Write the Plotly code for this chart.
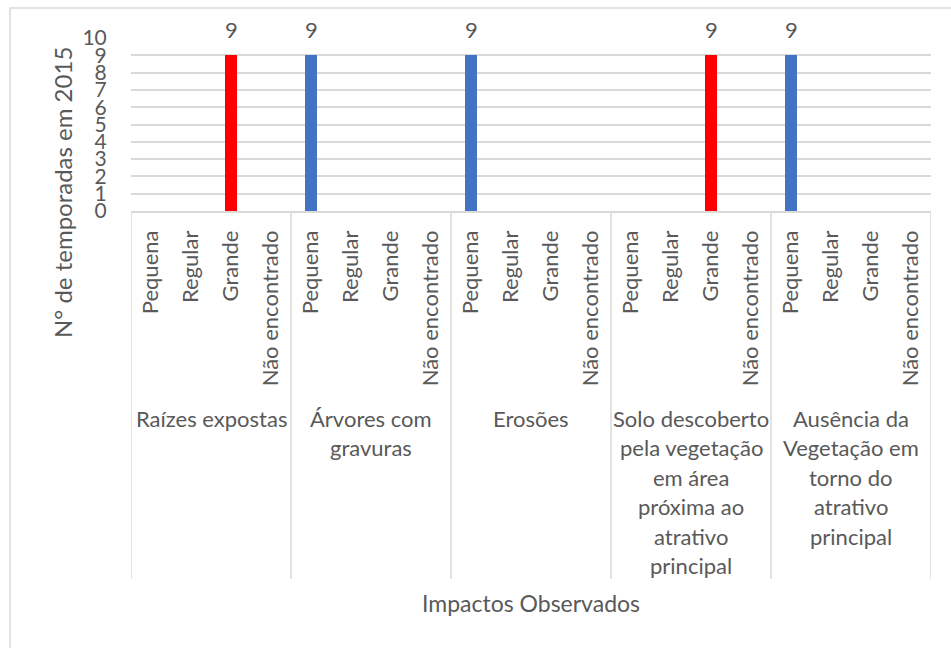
import plotly.graph_objects as go

# Impact categories (group level) and intensity levels (sub level)
groups = [
    "Raízes expostas",
    "Árvores com<br>gravuras",
    "Erosões",
    "Solo descoberto<br>pela vegetação<br>em área<br>próxima ao<br>atrativo<br>principal",
    "Ausência da<br>Vegetação em<br>torno do<br>atrativo<br>principal",
]
levels = ["Pequena", "Regular", "Grande", "Não encontrado"]

# Number of seasons (2015) per group, in the order of `levels`
raizes = [None, None, 9, None]
arvores = [9, None, None, None]
erosoes = [9, None, None, None]
solo = [None, None, 9, None]
ausencia = [9, None, None, None]
series = [raizes, arvores, erosoes, solo, ausencia]

level_colors = {"Pequena": "#4472C4", "Regular": "#4472C4",
                "Grande": "#FF0000", "Não encontrado": "#4472C4"}

FONT = "Lato"
GREY = "#595959"
LINE = "#D9D9D9"

W, H = 951, 648
ML, MR, MT, MB = 131, 20, 38, 437
plot_h = H - MT - MB  # 173

def py(pix):
    """Convert a page y-pixel to paper coordinates."""
    return (H - MB - pix) / plot_h

def px(pix):
    return (pix - ML) / (W - ML - MR)

xs, ys, cols, tickvals, ticktext = [], [], [], [], []
for g, vals in enumerate(series):
    for j, lvl in enumerate(levels):
        pos = g * len(levels) + j + 0.5
        tickvals.append(pos)
        ticktext.append(lvl)
        if vals[j] is not None:
            xs.append(pos)
            ys.append(vals[j])
            cols.append(level_colors[lvl])

fig = go.Figure()
fig.add_trace(go.Bar(x=xs, y=ys, width=0.3, marker=dict(color=cols, line_width=0),
                     showlegend=False, hoverinfo="skip"))

annotations = []
# value labels above bars
for x, y in zip(xs, ys):
    annotations.append(dict(x=x, y=y, xref="x", yref="y", text=str(y), showarrow=False,
                            yanchor="bottom", yshift=10,
                            font=dict(family=FONT, size=22, color=GREY)))

# group labels, line by line
n_sub = len(levels)
for g, name in enumerate(groups):
    for k, line in enumerate(name.split("<br>")):
        annotations.append(dict(x=g * n_sub + n_sub / 2, xref="x",
                                y=py(418 + k * 29.5), yref="paper",
                                text=line, showarrow=False, yanchor="middle",
                                font=dict(family=FONT, size=22, color=GREY)))

# axis titles
annotations.append(dict(x=px(62), y=py(193), xref="paper", yref="paper",
                        text="N° de temporadas em 2015", textangle=-90, showarrow=False,
                        xanchor="center", yanchor="middle",
                        font=dict(family=FONT, size=24, color=GREY)))
annotations.append(dict(x=0.5, y=py(603), xref="paper", yref="paper",
                        text="Impactos Observados", showarrow=False,
                        xanchor="center", yanchor="middle",
                        font=dict(family=FONT, size=23, color=GREY)))

shapes = []
# group separators of the category axis
for g in range(len(groups) + 1):
    shapes.append(dict(type="line", xref="x", yref="paper",
                       x0=g * n_sub, x1=g * n_sub, y0=py(579), y1=0,
                       line=dict(color=LINE, width=1.5)))
# chart frame
shapes.append(dict(type="rect", xref="paper", yref="paper",
                   x0=px(10), x1=px(960), y0=py(700), y1=py(8),
                   line=dict(color=LINE, width=1.5), layer="below"))

fig.update_layout(
    width=W, height=H,
    margin=dict(l=ML, r=MR, t=MT, b=MB),
    paper_bgcolor="white", plot_bgcolor="white",
    bargap=0,
    annotations=annotations,
    shapes=shapes,
    xaxis=dict(range=[0, len(groups) * n_sub], tickmode="array",
               tickvals=tickvals, ticktext=ticktext, tickangle=-90,
               ticks="outside", ticklen=9, tickcolor="rgba(0,0,0,0)",
               tickfont=dict(family=FONT, size=22, color=GREY),
               showgrid=False, zeroline=False, showline=True,
               linecolor=LINE, linewidth=1.5, fixedrange=True),
    yaxis=dict(range=[0, 10], dtick=1, tick0=0,
               showgrid=True, gridcolor=LINE, gridwidth=1.5,
               zeroline=False, showline=False,
               ticks="outside", ticklen=19, tickcolor="rgba(0,0,0,0)",
               tickfont=dict(family=FONT, size=21, color=GREY),
               fixedrange=True),
)

fig.write_html("out.html", config={"displayModeBar": False})
